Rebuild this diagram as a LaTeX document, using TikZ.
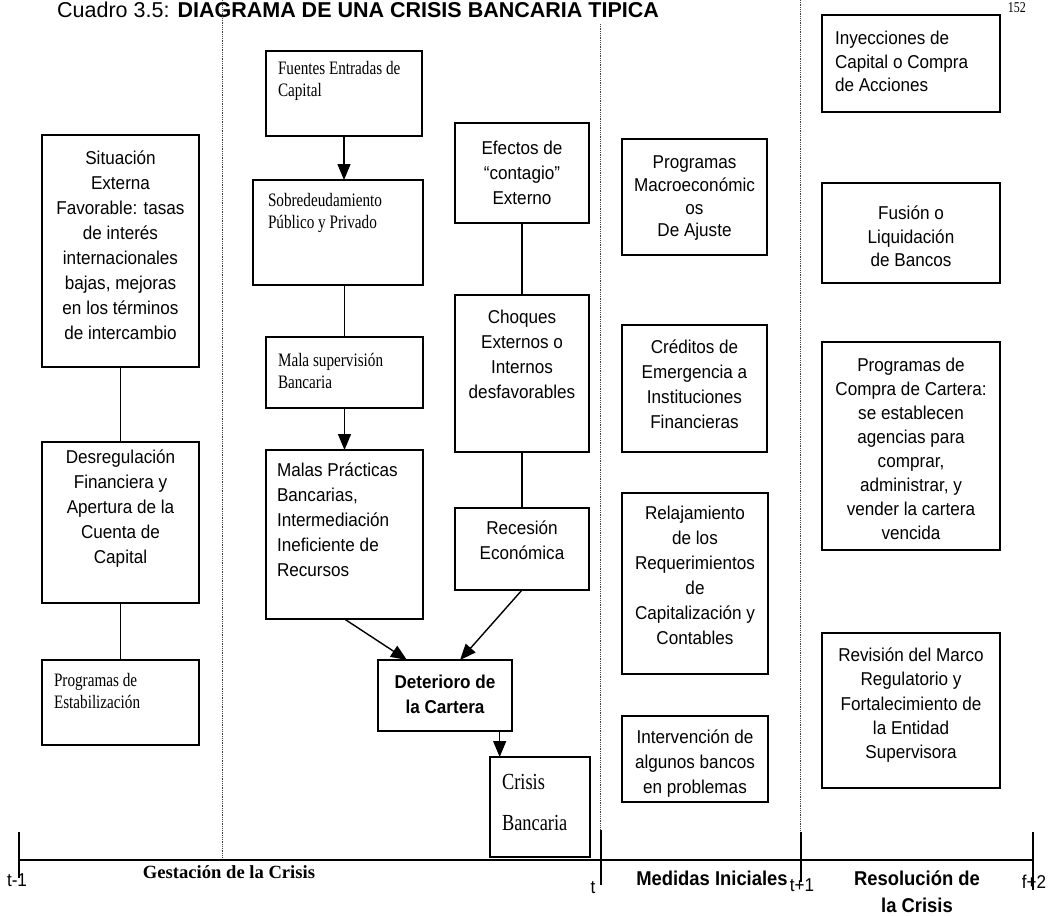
\documentclass[tikz,border=0pt]{standalone}
\usepackage{fontspec}
\setmainfont{Liberation Serif}
\newfontfamily\sansf[FakeStretch=0.92]{Liberation Sans}
\newfontfamily\titlef{Liberation Sans}
\newfontfamily\serifc[FakeStretch=0.8]{Liberation Serif}
\usetikzlibrary{arrows.meta}
\newcommand\bxt[5]{\parbox[c][#2pt][t]{#1pt}{#4\rule{0pt}{#3pt}#5\par}}
\newcommand\SF{\sansf\fontsize{18.6}{25}\selectfont}
\newcommand\RM{\serifc\fontsize{19}{22}\selectfont}
\begin{document}
\begin{tikzpicture}[x=1pt,y=-1pt,
  box/.style={draw, line width=1.6pt, inner sep=0pt, outer sep=0pt, anchor=north west},
  link/.style={line width=1.4pt},
  arr/.style={line width=1.4pt, -{Triangle[length=16pt,width=13pt]}},
  sep/.style={densely dotted, line width=0.8pt, black!75},
  axisline/.style={line width=1.5pt},
  tickline/.style={line width=1.8pt},
  lab/.style={inner sep=0pt}]
\fill[white] (0,0) rectangle (1050,916);
\useasboundingbox (0,0) rectangle (1050,916);

% title and page number
\node[lab, anchor=base west] (title) at (57,17) {\titlef\fontsize{21.5}{24}\selectfont Cuadro 3.5:\hspace{8pt}\bfseries DIAGRAMA DE UNA CRISIS BANCARIA TIPICA};
\node[lab, anchor=base east] (pnum) at (1026,12) {\serifc\fontsize{15}{18}\selectfont 152};

% separators
\coordinate (s1t) at (222,0);   \coordinate (s1b) at (222,860);
\coordinate (s2t) at (600,24);  \coordinate (s2b) at (600,832);
\coordinate (s3t) at (800,0);   \coordinate (s3b) at (800,832);
\draw[sep] (s1t) -- (s1b);
\draw[sep] (s2t) -- (s2b);
\draw[sep] (s3t) -- (s3b);

% left column
\node[box] (sit) at (42,135) {\bxt{157}{232}{29.6}{\SF\centering}{Situación\\Externa\\Favorable: tasas\\de interés\\internacionales\\bajas, mejoras\\en los términos\\de intercambio}};
\node[box] (des) at (42,442) {\bxt{157}{161}{21.6}{\SF\centering}{Desregulación\\Financiera y\\Apertura de la\\Cuenta de\\Capital}};
\node[box] (prs) at (42,660) {\bxt{157}{85}{26.3}{\RM\raggedright\leftskip=12pt}{Programas de\\Estabilización}};

% second column
\node[box] (fue) at (266,51) {\bxt{156}{85}{23.3}{\RM\raggedright\leftskip=12pt}{Fuentes Entradas de\\Capital}};
\node[box] (sob) at (253,180) {\bxt{170}{105}{26}{\RM\raggedright\leftskip=15pt}{Sobredeudamiento\\Público y Privado}};
\node[box] (mal) at (266,337) {\bxt{157}{71}{29}{\RM\raggedright\leftskip=12pt}{Mala supervisión\\Bancaria}};
\node[box] (mpr) at (266,450) {\bxt{157}{169}{26.6}{\SF\raggedright\leftskip=11pt}{Malas Prácticas\\Bancarias,\\Intermediación\\Ineficiente de\\Recursos}};

% third column
\node[box] (efe) at (455,123) {\bxt{134}{100}{31.6}{\SF\centering}{Efectos de\\“contagio”\\Externo}};
\node[box] (cho) at (455,295) {\bxt{134}{157}{28.6}{\SF\centering}{Choques\\Externos o\\Internos\\desfavorables}};
\node[box] (rec) at (455,508) {\bxt{134}{82}{26.6}{\SF\centering}{Recesión\\Económica}};

\node[box] (det) at (378,660) {\bxt{134}{71}{28.6}{\SF\bfseries\centering}{Deterioro de\\la Cartera}};
\node[box] (cri) at (490,757) {\bxt{100}{100}{32.6}{\serifc\fontsize{23}{41}\selectfont\raggedright\leftskip=12pt}{Crisis\\Bancaria}};

% medidas iniciales
\node[box] (pma) at (622,139) {\bxt{145}{116}{29.6}{\sansf\fontsize{18.6}{22.7}\selectfont\centering}{Programas\\Macroeconómic\\os\\De Ajuste}};
\node[box] (cre) at (622,325) {\bxt{145}{127}{28.6}{\SF\centering}{Créditos de\\Emergencia a\\Instituciones\\Financieras}};
\node[box] (rel) at (622,493) {\bxt{146}{181}{26.6}{\SF\centering}{Relajamiento\\de los\\Requerimientos\\de\\Capitalización y\\Contables}};
\node[box] (int) at (622,716) {\bxt{146}{86}{27.6}{\SF\centering}{Intervención de\\algunos bancos\\en problemas}};

% resolucion
\node[box] (iny) at (822,15) {\bxt{178}{97}{29.6}{\sansf\fontsize{18.6}{23.5}\selectfont\raggedright\leftskip=13pt}{Inyecciones de\\Capital o Compra\\de Acciones}};
\node[box] (fus) at (822,183) {\bxt{178}{100}{36.6}{\sansf\fontsize{18.6}{23.5}\selectfont\centering}{Fusión o\\Liquidación\\de Bancos}};
\node[box] (pco) at (822,342) {\bxt{178}{208}{29.6}{\sansf\fontsize{18.6}{24}\selectfont\centering}{Programas de\\Compra de Cartera:\\se establecen\\agencias para\\comprar,\\administrar, y\\vender la cartera\\vencida}};
\node[box] (rev) at (822,633) {\bxt{178}{155}{28.6}{\sansf\fontsize{18.6}{24.3}\selectfont\centering}{Revisión del Marco\\Regulatorio y\\Fortalecimiento de\\la Entidad\\Supervisora}};

% connectors
\draw[link] (sit) -- (des);
\draw[link] (des) -- (prs);
\draw[arr] (fue.south) -- (fue.south |- sob.north);
\draw[link] (sob.south -| mal.north) -- (mal.north);
\draw[arr] (mal) -- (mpr);
\draw[link] (efe) -- (cho);
\draw[link] (cho) -- (rec);
\draw[arr] (mpr.south) -- (det.137);
\draw[arr] (rec.south) -- (det.67);
\draw[arr] (det.-33) -- (det.-33 |- cri.north);

% time axis
\coordinate (a0) at (19,860);
\coordinate (a3) at (1033,860);
\draw[axisline] (a0) -- (a3);
\draw[tickline] (19,832) -- (19,878);
\draw[tickline] (601,830) -- (601,885);
\draw[tickline] (801,832) -- (801,882);
\draw[tickline] (1033,832) -- (1033,890);
\node[lab, anchor=base] (lt0) at (17,886.6) {\SF t-1};
\node[lab, anchor=base] (lt1) at (593,893.6) {\SF t};
\node[lab, anchor=base] (lt2) at (802,891.6) {\SF t+1};
\node[lab, anchor=base] (lt3) at (1034,888.6) {\SF f+2};

\node[lab, anchor=base] (ges) at (229,878.5) {\bfseries\fontsize{18.6}{22}\selectfont Gestación de la Crisis};
\node[lab, anchor=base] (med) at (712,885) {\sansf\bfseries\fontsize{20}{24}\selectfont Medidas Iniciales};
\node[lab, anchor=base] (res1) at (917,885) {\sansf\bfseries\fontsize{20}{24}\selectfont Resolución de};
\node[lab, anchor=base] (res2) at (917,912) {\sansf\bfseries\fontsize{20}{24}\selectfont la Crisis};
\end{tikzpicture}
\end{document}
